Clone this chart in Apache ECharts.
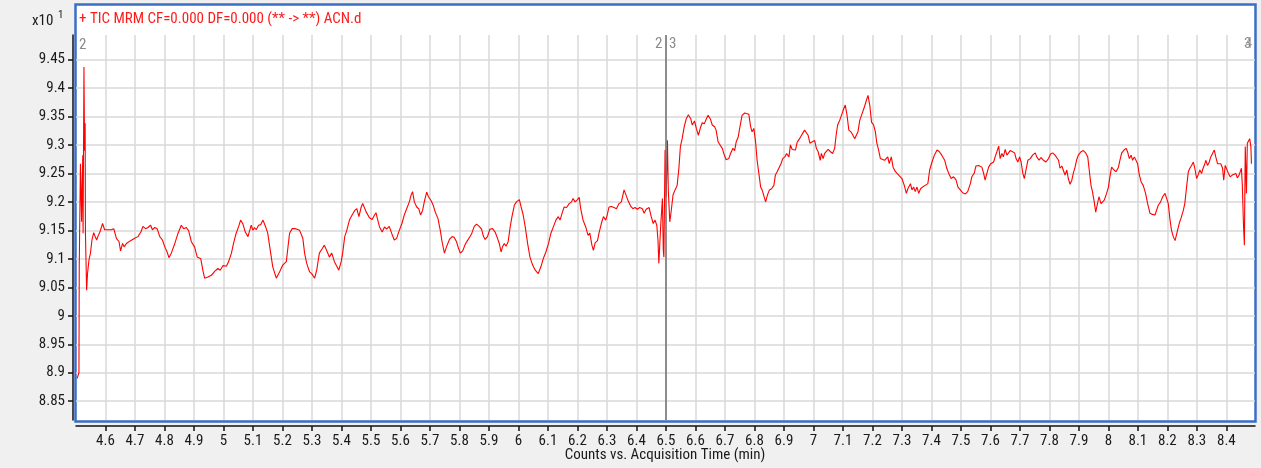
<!DOCTYPE html>
<html>
<head>
<meta charset="utf-8">
<script src="https://cdn.jsdelivr.net/npm/echarts@6/dist/echarts.min.js"></script>
<style>
html,body{margin:0;padding:0;background:#f0f0f0;}
#chart{width:1261px;height:468px;}
</style>
</head>
<body>
<div id="chart"></div>
<script>
const times = [4.504,4.510,4.511,4.515,4.519,4.521,4.523,4.524,4.527,4.529,4.531,4.532,4.536,4.539,4.544,4.549,4.554,4.560,4.565,4.570,4.574,4.581,4.590,4.597,4.609,4.620,4.628,4.637,4.646,4.651,4.658,4.663,4.671,4.682,4.699,4.710,4.720,4.727,4.736,4.744,4.753,4.759,4.767,4.775,4.784,4.793,4.801,4.809,4.815,4.823,4.835,4.846,4.857,4.865,4.874,4.882,4.891,4.902,4.911,4.923,4.930,4.936,4.947,4.959,4.970,4.981,4.989,4.998,5.010,5.018,5.027,5.034,5.043,5.051,5.058,5.066,5.074,5.083,5.088,5.094,5.100,5.105,5.111,5.119,5.126,5.134,5.143,5.150,5.160,5.167,5.179,5.190,5.201,5.213,5.224,5.233,5.244,5.258,5.269,5.275,5.282,5.292,5.299,5.309,5.316,5.325,5.335,5.342,5.352,5.359,5.367,5.376,5.385,5.391,5.399,5.404,5.411,5.418,5.427,5.436,5.445,5.452,5.459,5.467,5.472,5.484,5.495,
5.504,5.512,5.517,5.523,5.529,5.538,5.546,5.553,5.562,5.570,5.579,5.587,5.596,5.605,5.613,5.621,5.630,5.636,5.641,5.647,5.655,5.662,5.668,5.675,5.682,5.689,5.695,5.704,5.711,5.718,5.727,5.735,5.741,5.749,5.756,5.766,5.775,5.782,5.790,5.797,5.803,5.811,5.820,5.827,5.837,5.842,5.850,5.858,5.867,5.875,5.881,5.887,5.895,5.903,5.912,5.921,5.929,5.935,5.941,5.946,5.952,5.958,5.965,5.972,5.978,5.986,5.993,6.003,6.009,6.016,6.023,6.031,6.039,6.048,6.057,6.067,6.076,6.084,6.093,6.102,6.110,6.119,6.127,6.135,6.141,6.149,6.155,6.163,6.172,6.180,6.185,6.192,6.200,6.206,6.211,6.219,6.228,6.236,6.242,6.249,6.254,6.260,6.268,6.273,6.281,6.288,6.296,6.301,6.307,6.315,6.324,6.332,6.341,6.349,6.358,6.364,6.371,6.381,6.388,6.395,6.403,6.411,6.420,6.426,6.433,6.443,6.450,6.457,6.463,6.469,6.473,6.476,6.482,6.488,6.491,6.493,6.497,6.501,6.505,6.508,6.513,6.517,6.524,6.531,6.538,6.544,
6.549,6.555,6.562,6.569,6.576,6.584,6.589,6.597,6.603,6.610,6.618,6.623,6.630,6.637,6.643,6.651,6.657,6.665,6.670,6.677,6.683,6.691,6.696,6.704,6.713,6.719,6.727,6.733,6.738,6.745,6.751,6.758,6.767,6.773,6.781,6.787,6.792,6.798,6.804,6.809,6.815,6.821,6.826,6.832,6.838,6.844,6.851,6.858,6.866,6.871,6.877,6.883,6.890,6.896,6.903,6.909,6.917,6.922,6.928,6.933,6.939,6.945,6.953,6.962,6.970,6.975,6.982,6.988,6.995,7.004,7.010,7.016,7.023,7.027,7.033,7.038,7.044,7.050,7.058,7.065,7.072,7.077,7.082,7.089,7.097,7.103,7.108,7.114,7.120,7.127,7.134,7.140,7.146,7.151,7.157,7.165,7.173,7.180,7.185,7.191,7.197,7.204,7.210,7.215,7.221,7.227,7.232,7.241,7.246,7.252,7.257,7.264,7.270,7.278,7.289,7.300,7.308,7.315,7.320,7.329,7.334,7.340,7.345,7.351,7.357,7.363,7.370,7.379,7.388,7.394,7.402,7.410,7.419,7.427,7.435,7.445,7.452,7.461,7.467,7.475,7.483,7.490,7.498,
7.506,7.515,7.523,7.532,7.537,7.545,7.551,7.560,7.571,7.577,7.582,7.588,7.594,7.601,7.611,7.616,7.622,7.628,7.633,7.639,7.644,7.650,7.656,7.661,7.667,7.675,7.682,7.687,7.693,7.699,7.704,7.710,7.715,7.721,7.727,7.735,7.743,7.752,7.757,7.765,7.771,7.780,7.788,7.797,7.804,7.811,7.819,7.825,7.831,7.836,7.842,7.847,7.853,7.859,7.864,7.870,7.876,7.881,7.887,7.892,7.898,7.907,7.915,7.923,7.930,7.935,7.941,7.946,7.951,7.957,7.963,7.968,7.975,7.980,7.986,7.994,8.000,8.006,8.011,8.019,8.026,8.034,8.039,8.045,8.053,8.060,8.065,8.071,8.077,8.082,8.088,8.094,8.099,8.105,8.111,8.118,8.126,8.133,8.141,8.149,8.158,8.163,8.169,8.177,8.184,8.192,8.197,8.203,8.209,8.214,8.220,8.226,8.233,8.240,8.246,8.254,8.259,8.265,8.271,8.276,8.282,8.288,8.293,8.299,8.304,8.310,8.316,8.321,8.327,8.330,8.336,8.342,8.347,8.353,8.359,8.364,8.370,8.376,8.381,8.387,8.391,8.396,8.402,8.407,8.413,8.420,8.426,8.432,8.437,8.443,8.448,8.451,8.454,8.458,8.461,8.464,8.468,8.471,8.476,8.479,8.483,8.485];

const counts = [8.890,8.900,9.086,9.267,9.165,9.232,9.282,9.145,9.437,9.290,9.338,9.145,9.045,9.074,9.098,9.110,9.133,9.146,9.139,9.133,9.139,9.147,9.162,9.151,9.151,9.151,9.153,9.136,9.130,9.114,9.127,9.121,9.127,9.131,9.136,9.139,9.147,9.157,9.153,9.155,9.159,9.151,9.155,9.153,9.139,9.133,9.121,9.112,9.102,9.110,9.127,9.145,9.159,9.153,9.155,9.149,9.130,9.121,9.103,9.100,9.080,9.066,9.068,9.071,9.078,9.083,9.080,9.088,9.087,9.096,9.110,9.127,9.145,9.156,9.168,9.161,9.147,9.139,9.139,9.159,9.150,9.155,9.151,9.159,9.160,9.168,9.156,9.145,9.110,9.086,9.066,9.077,9.089,9.095,9.145,9.153,9.153,9.150,9.136,9.110,9.092,9.077,9.074,9.066,9.080,9.110,9.118,9.124,9.112,9.103,9.110,9.095,9.086,9.080,9.095,9.110,9.139,9.150,9.168,9.177,9.185,9.188,9.174,9.191,9.197,9.182,9.172,
9.169,9.177,9.181,9.168,9.156,9.147,9.156,9.152,9.157,9.145,9.133,9.136,9.150,9.162,9.177,9.188,9.200,9.212,9.218,9.200,9.191,9.188,9.177,9.185,9.203,9.217,9.209,9.202,9.194,9.182,9.171,9.150,9.130,9.110,9.121,9.134,9.139,9.138,9.130,9.118,9.110,9.114,9.126,9.132,9.140,9.145,9.157,9.161,9.157,9.152,9.140,9.134,9.139,9.152,9.153,9.147,9.136,9.127,9.112,9.121,9.127,9.122,9.130,9.156,9.174,9.194,9.200,9.204,9.191,9.177,9.156,9.127,9.103,9.089,9.080,9.074,9.086,9.100,9.112,9.127,9.145,9.157,9.168,9.174,9.168,9.182,9.191,9.190,9.197,9.200,9.206,9.200,9.204,9.208,9.188,9.168,9.156,9.141,9.145,9.124,9.115,9.128,9.132,9.145,9.162,9.174,9.168,9.177,9.191,9.192,9.190,9.188,9.197,9.200,9.221,9.218,9.203,9.192,9.188,9.190,9.187,9.190,9.188,9.180,9.187,9.190,9.174,9.162,9.168,9.159,9.133,9.092,9.156,9.206,9.115,9.103,9.291,9.209,9.308,9.221,9.165,9.180,9.212,9.221,9.229,9.260,
9.297,9.311,9.332,9.346,9.353,9.346,9.335,9.342,9.329,9.317,9.332,9.339,9.337,9.346,9.352,9.345,9.335,9.332,9.326,9.305,9.303,9.294,9.285,9.274,9.276,9.285,9.294,9.290,9.305,9.314,9.332,9.352,9.356,9.358,9.354,9.332,9.323,9.329,9.305,9.273,9.250,9.226,9.221,9.223,9.200,9.212,9.221,9.223,9.229,9.247,9.253,9.250,9.267,9.276,9.279,9.285,9.279,9.300,9.292,9.294,9.291,9.305,9.311,9.319,9.326,9.329,9.317,9.303,9.305,9.308,9.294,9.288,9.273,9.285,9.276,9.285,9.282,9.292,9.288,9.285,9.294,9.317,9.335,9.343,9.355,9.364,9.370,9.352,9.326,9.323,9.317,9.311,9.308,9.323,9.343,9.355,9.367,9.379,9.387,9.370,9.340,9.335,9.323,9.303,9.291,9.276,9.279,9.273,9.276,9.279,9.267,9.279,9.261,9.253,9.247,9.241,9.229,9.215,9.223,9.232,9.221,9.226,9.218,9.226,9.215,9.223,9.226,9.229,9.232,9.256,9.270,9.282,9.291,9.288,9.282,9.273,9.259,9.247,9.241,9.244,9.239,9.226,9.221,
9.216,9.214,9.218,9.232,9.244,9.250,9.263,9.264,9.261,9.250,9.238,9.250,9.261,9.267,9.270,9.279,9.288,9.298,9.276,9.285,9.279,9.292,9.282,9.279,9.290,9.288,9.286,9.276,9.270,9.279,9.270,9.250,9.241,9.244,9.273,9.276,9.282,9.286,9.279,9.273,9.278,9.273,9.270,9.276,9.284,9.286,9.282,9.285,9.273,9.259,9.263,9.256,9.247,9.256,9.241,9.231,9.238,9.250,9.261,9.273,9.282,9.288,9.290,9.286,9.279,9.256,9.229,9.218,9.203,9.182,9.197,9.209,9.197,9.194,9.203,9.215,9.226,9.247,9.261,9.256,9.253,9.261,9.273,9.286,9.291,9.294,9.288,9.276,9.282,9.273,9.279,9.276,9.267,9.247,9.235,9.229,9.215,9.197,9.180,9.178,9.177,9.178,9.194,9.200,9.209,9.215,9.212,9.197,9.168,9.150,9.139,9.132,9.147,9.162,9.171,9.185,9.197,9.226,9.253,9.259,9.264,9.270,9.259,9.241,9.247,9.256,9.250,9.259,9.267,9.273,9.264,9.270,9.279,9.285,9.291,9.279,9.267,9.264,9.267,9.259,9.238,9.264,9.261,9.250,9.244,9.247,9.244,9.250,9.242,9.247,9.244,9.259,9.229,9.159,9.124,9.297,9.215,9.303,9.305,9.311,9.297,9.267];

const xTicks = [4.6,4.7,4.8,4.9,5,5.1,5.2,5.3,5.4,5.5,5.6,5.7,5.8,5.9,6,6.1,6.2,6.3,6.4,6.5,6.6,6.7,6.8,6.9,7,7.1,7.2,7.3,7.4,7.5,7.6,7.7,7.8,7.9,8,8.1,8.2,8.3,8.4];
const yTicks = [8.85,8.9,8.95,9,9.05,9.1,9.15,9.2,9.25,9.3,9.35,9.4,9.45];
const xRange = [4.5, 8.497];
const yRange = [8.817, 9.493];
const segmentBoundary = 6.5;
const titleText = '+ TIC MRM CF=0.000 DF=0.000 (** -> **) ACN.d';
const xAxisTitle = 'Counts vs. Acquisition Time (min)';

const FONT = "'Liberation Sans Narrow','Arial Narrow','Roboto Condensed','Liberation Sans',sans-serif";
const seriesData = times.map((t, i) => [t, counts[i]]);

const chart = echarts.init(document.getElementById('chart'), null, {renderer: 'canvas'});
chart.setOption({
  backgroundColor: '#f0f0f0',
  animation: false,
  grid: {left: 76, right: 6, top: 35, bottom: 48, containLabel: false},
  xAxis: {
    type: 'value', min: xRange[0], max: xRange[1],
    offset: 6,
    axisLine: {show: true, onZero: false, lineStyle: {color: '#111', width: 1.5}},
    axisTick: {show: true, length: 5, customValues: xTicks, lineStyle: {color: '#111', width: 1.5}},
    axisLabel: {customValues: xTicks, margin: 8, color: '#1a1a1a', fontSize: 15, fontFamily: FONT,
      formatter: v => String(v)},
    splitLine: {show: true, lineStyle: {color: '#d8d8d8', width: 1.5}}
  },
  yAxis: {
    type: 'value', min: yRange[0], max: yRange[1],
    offset: 3,
    axisLine: {show: true, onZero: false, lineStyle: {color: '#111', width: 1.5}},
    axisTick: {show: true, length: 5, customValues: yTicks, lineStyle: {color: '#111', width: 1.5}},
    axisLabel: {customValues: yTicks, margin: 8, color: '#1a1a1a', fontSize: 15, fontFamily: FONT,
      formatter: v => String(v)},
    splitLine: {show: true, lineStyle: {color: '#d8d8d8', width: 1.5}}
  },
  graphic: [
    {type: 'rect', z: -10, silent: true, shape: {x: 75.5, y: 4.5, width: 1180, height: 417},
      style: {fill: '#ffffff', stroke: '#3a6ec6', lineWidth: 2.5}},
    {type: 'text', left: 79, top: 12, silent: true,
      style: {text: titleText, fill: '#ff1a1a', font: '15px ' + FONT}},
    {type: 'text', left: 32, top: 14, silent: true,
      style: {text: 'x10', fill: '#1a1a1a', font: '15px ' + FONT}},
    {type: 'text', left: 58, top: 10, silent: true,
      style: {text: '1', fill: '#1a1a1a', font: '11px ' + FONT}},
    {type: 'text', left: 79, top: 38, silent: true,
      style: {text: '2', fill: '#8a8a8a', font: '15px ' + FONT}},
    {type: 'text', left: 655, top: 37, silent: true,
      style: {text: '2', fill: '#8a8a8a', font: '15px ' + FONT}},
    {type: 'text', left: 669, top: 37, silent: true,
      style: {text: '3', fill: '#8a8a8a', font: '15px ' + FONT}},
    {type: 'text', left: 1244, top: 37, silent: true,
      style: {text: '3', fill: '#8a8a8a', font: '15px ' + FONT}},
    {type: 'text', left: 1245, top: 37, silent: true,
      style: {text: '4', fill: 'rgba(138,138,138,0.7)', font: '15px ' + FONT}},
    {type: 'text', x: 665, y: 448, silent: true,
      style: {text: xAxisTitle, fill: '#1a1a1a', font: '15px ' + FONT, align: 'center'}}
  ],
  series: [{
    type: 'line',
    data: seriesData,
    showSymbol: false,
    symbol: 'none',
    lineStyle: {color: '#ff0000', width: 1.1},
    clip: true,
    markLine: {
      silent: true, symbol: 'none', label: {show: false},
      lineStyle: {color: '#707070', width: 1.5, type: 'solid'},
      data: [{xAxis: segmentBoundary}]
    }
  }]
});
</script>
</body>
</html>
